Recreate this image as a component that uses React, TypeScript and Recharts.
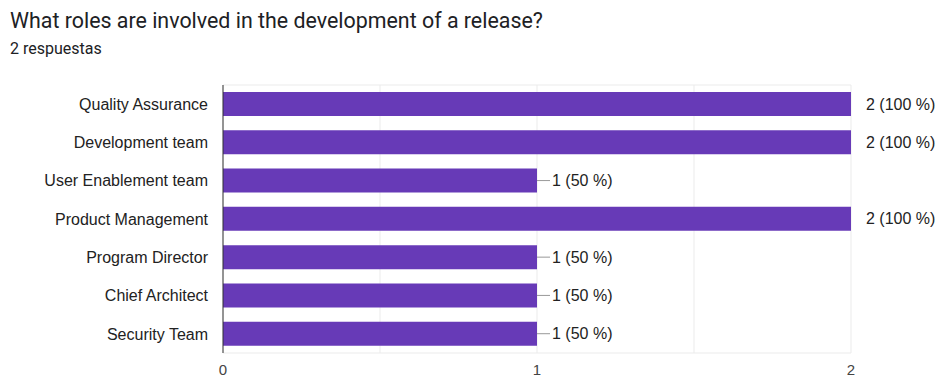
import { BarChart, Bar, XAxis, YAxis, CartesianGrid, LabelList } from "recharts";

const roles = [
  "Quality Assurance",
  "Development team",
  "User Enablement team",
  "Product Management",
  "Program Director",
  "Chief Architect",
  "Security Team",
];
const counts = [2, 2, 1, 2, 1, 1, 1];
const percents = [100, 100, 50, 100, 50, 50, 50];
const xTicks = [0, 0.5, 1, 1.5, 2];
const maxCount = 2;

const data = roles.map((role, i) => ({ role, count: counts[i], pct: percents[i] }));

const CHART_FONT = "'Liberation Sans', Arial, Helvetica, sans-serif";
const TITLE_FONT = "Roboto, 'Liberation Sans', Arial, sans-serif";

const ValueLabel = (props: any) => {
  const { x, y, width, height, index } = props;
  const end = x + width;
  const cy = y + height / 2;
  return (
    <g>
      {counts[index] < maxCount && (
        <line x1={end} y1={cy} x2={end + 13} y2={cy} stroke="#999" strokeWidth={1} />
      )}
      <text x={end + 15} y={cy} dy="0.35em" fontSize={16} fill="#222" fontFamily={CHART_FONT}>
        {`${counts[index]} (${percents[index]} %)`}
      </text>
    </g>
  );
};

export default function App() {
  return (
    <div style={{ position: "absolute", left: 0, top: 0, width: 942, height: 379, background: "#fff" }}>
      <div
        style={{
          position: "absolute",
          left: 10,
          top: 8,
          fontSize: 21.4,
          color: "#202124",
          whiteSpace: "nowrap",
          fontFamily: TITLE_FONT,
        }}
      >
        What roles are involved in the development of a release?
      </div>
      <div style={{ position: "absolute", left: 10, top: 39, fontSize: 16, color: "#202124", fontFamily: TITLE_FONT }}>
        2 respuestas
      </div>
      <BarChart
        width={942}
        height={379}
        data={data}
        layout="vertical"
        margin={{ top: 85, right: 91, bottom: 0, left: 0 }}
        barCategoryGap={7}
      >
        <CartesianGrid
          stroke="#ebebeb"
          horizontalCoordinatesGenerator={({ offset }: any) => [offset.top, offset.top + offset.height]}
        />
        <XAxis
          type="number"
          domain={[0, 2]}
          ticks={xTicks}
          height={26}
          axisLine={false}
          tickLine={false}
          tickSize={0}
          tickMargin={11}
          tick={{ fontSize: 15, fill: "#444", fontFamily: CHART_FONT }}
          tickFormatter={(v: number) => (Number.isInteger(v) ? String(v) : "")}
        />
        <YAxis
          type="category"
          dataKey="role"
          width={223}
          axisLine={{ stroke: "#333" }}
          tickLine={false}
          tickSize={0}
          tickMargin={15}
          tick={{ fontSize: 16, fill: "#222", fontFamily: CHART_FONT }}
          interval={0}
        />
        <Bar dataKey="count" fill="#673ab7" barSize={24} isAnimationActive={false}>
          <LabelList dataKey="count" content={ValueLabel} />
        </Bar>
      </BarChart>
    </div>
  );
}
